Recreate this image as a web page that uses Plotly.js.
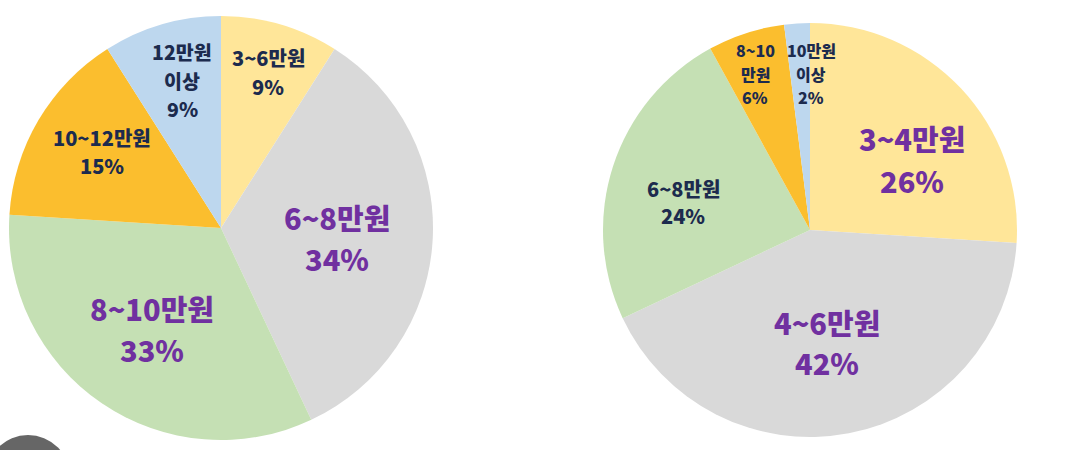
<!DOCTYPE html>
<html>
<head>
<meta charset="utf-8">
<script src="https://cdn.plot.ly/plotly-3.0.1.min.js"></script>
<style>html,body{margin:0;padding:0;background:#fff;}#chart{width:1072px;height:450px;}</style>
</head>
<body>
<div id="chart"></div>
<script>
// ---- data ----
const leftLabels = ['3~6만원', '6~8만원', '8~10만원', '10~12만원', '12만원 이상'];
const leftValues = [9, 34, 33, 15, 9];
const leftLabelLines = [['3~6만원'], ['6~8만원'], ['8~10만원'], ['10~12만원'], ['12만원', '이상']];

const rightLabels = ['3~4만원', '4~6만원', '6~8만원', '8~10만원', '10만원 이상'];
const rightValues = [26, 42, 24, 6, 2];
const rightLabelLines = [['3~4만원'], ['4~6만원'], ['6~8만원'], ['8~10', '만원'], ['10만원', '이상']];

// ---- styles ----
const sliceColors = ['#FFE699', '#D9D9D9', '#C5E0B4', '#FBBE2E', '#BDD7EE'];
const NAVY = '#1C2B4E', PURPLE = '#7030A0';
const W = 1072, H = 450;

// label placement: [centre x px, first-line y px], [font size, line spacing, colour]
const leftLabelPos = [[268, 58], [337, 217], [152, 308], [102, 137], [182, 52]];
const leftLabelStyle = [[20, 28, NAVY], [29, 41, PURPLE], [29, 41, PURPLE], [20, 28, NAVY], [19.5, 28, NAVY]];
const rightLabelPos = [[912, 138], [827, 322], [683, 189], [755, 50], [811, 50]];
const rightLabelStyle = [[29, 42, PURPLE], [29, 40, PURPLE], [20, 26, NAVY], [16, 23.5, NAVY], [16, 23.5, NAVY]];

function px2dom(x0, x1, y0, y1) {
  return {x: [x0 / W, x1 / W], y: [1 - y1 / H, 1 - y0 / H]};
}

const common = {
  type: 'pie', sort: false, direction: 'clockwise', rotation: 0,
  textinfo: 'none', hoverinfo: 'skip',
  marker: {colors: sliceColors, line: {width: 0}}
};

const traces = [
  Object.assign({}, common, {labels: leftLabels, values: leftValues, domain: px2dom(9, 433, 16, 440)}),
  Object.assign({}, common, {labels: rightLabels, values: rightValues, domain: px2dom(603, 1017, 23, 437)})
];

function makeAnn(lines, values, pos, style) {
  const out = [];
  lines.forEach((ls, i) => {
    const all = ls.concat([values[i] + '%']);
    all.forEach((t, j) => {
      out.push({
        xref: 'paper', yref: 'paper',
        x: pos[i][0] / W, y: 1 - (pos[i][1] + j * style[i][1]) / H,
        xanchor: 'center', yanchor: 'middle',
        showarrow: false, borderpad: 0,
        text: t,
        font: {family: 'Noto Sans CJK KR, Noto Sans, sans-serif', size: style[i][0], color: style[i][2], weight: 900}
      });
    });
  });
  return out;
}

const annotations = makeAnn(leftLabelLines, leftValues, leftLabelPos, leftLabelStyle)
  .concat(makeAnn(rightLabelLines, rightValues, rightLabelPos, rightLabelStyle));

const layout = {
  width: W, height: H,
  margin: {l: 0, r: 0, t: 0, b: 0},
  paper_bgcolor: '#ffffff', plot_bgcolor: '#ffffff',
  showlegend: false,
  hovermode: false,
  annotations: annotations,
  shapes: [{
    type: 'circle', xref: 'paper', yref: 'paper',
    x0: -14 / W, x1: 70 / W, y0: 1 - 519 / H, y1: 1 - 435 / H,
    fillcolor: '#666666', line: {width: 0}
  }]
};

Plotly.newPlot('chart', traces, layout, {displayModeBar: false, staticPlot: true});
</script>
</body>
</html>
